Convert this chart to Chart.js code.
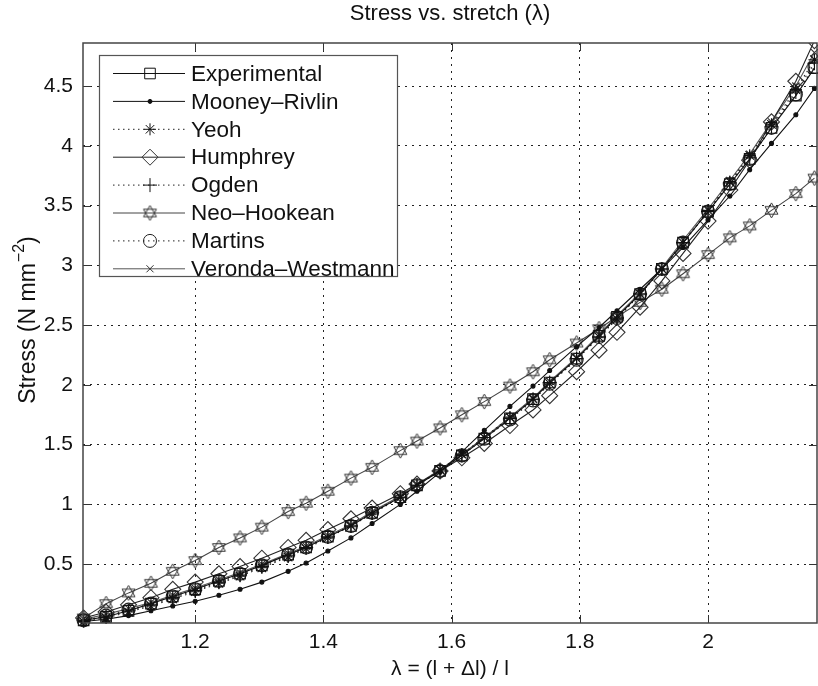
<!DOCTYPE html>
<html>
<head>
<meta charset="utf-8">
<style>
html,body{margin:0;padding:0;background:#fff;}
#wrap{width:818px;height:686px;position:relative;}
</style>
<script src="https://cdn.jsdelivr.net/npm/chart.js@4.4.1/dist/chart.umd.min.js"></script>
</head>
<body>
<div id="wrap"><canvas id="c" width="818" height="686"></canvas></div>
<script>
// ---- data ----
const stretch = [1.026,1.061,1.096,1.131,1.165,1.200,1.237,1.270,1.304,1.345,1.373,1.407,1.443,1.476,1.520,1.546,1.582,1.616,1.651,1.691,1.727,1.753,1.795,1.830,1.858,1.894,1.928,1.961,2.000,2.034,2.065,2.099,2.137,2.166];
const experimental = [0.03,0.06,0.11,0.17,0.23,0.29,0.36,0.42,0.49,0.58,0.64,0.73,0.82,0.93,1.06,1.16,1.28,1.41,1.55,1.72,1.88,2.02,2.22,2.41,2.57,2.76,2.97,3.19,3.45,3.68,3.89,4.15,4.42,4.65];
const mooneyRivlin = [0.02,0.04,0.07,0.11,0.15,0.19,0.24,0.29,0.35,0.44,0.51,0.61,0.72,0.84,1.00,1.11,1.27,1.44,1.62,1.82,1.99,2.12,2.32,2.48,2.62,2.80,2.97,3.15,3.38,3.58,3.80,4.02,4.26,4.48];
const yeoh = [0.02,0.05,0.10,0.15,0.21,0.27,0.34,0.40,0.47,0.56,0.63,0.72,0.82,0.92,1.06,1.16,1.29,1.42,1.56,1.73,1.88,2.01,2.22,2.40,2.55,2.76,2.97,3.19,3.46,3.70,3.92,4.18,4.47,4.72];
const humphrey = [0.05,0.10,0.16,0.22,0.29,0.35,0.42,0.48,0.55,0.64,0.70,0.79,0.88,0.97,1.09,1.17,1.28,1.39,1.51,1.66,1.79,1.91,2.11,2.29,2.44,2.65,2.87,3.10,3.37,3.63,3.88,4.20,4.54,4.88];
const ogden = [0.03,0.06,0.11,0.16,0.22,0.28,0.35,0.41,0.48,0.57,0.64,0.73,0.82,0.93,1.06,1.16,1.28,1.41,1.56,1.72,1.88,2.02,2.22,2.40,2.56,2.76,2.97,3.19,3.45,3.69,3.90,4.16,4.45,4.69];
const neoHookean = [0.05,0.17,0.26,0.34,0.44,0.53,0.64,0.72,0.81,0.94,1.01,1.11,1.22,1.31,1.45,1.53,1.64,1.75,1.86,1.99,2.11,2.21,2.35,2.47,2.57,2.69,2.80,2.93,3.09,3.23,3.33,3.46,3.60,3.73];
const martins = [0.03,0.07,0.12,0.17,0.23,0.29,0.36,0.42,0.49,0.58,0.64,0.73,0.82,0.93,1.06,1.16,1.28,1.41,1.55,1.71,1.87,2.01,2.21,2.40,2.56,2.76,2.97,3.19,3.45,3.68,3.89,4.15,4.43,4.66];
const verondaWestmann = [0.04,0.08,0.13,0.18,0.24,0.30,0.37,0.43,0.50,0.59,0.65,0.74,0.83,0.94,1.07,1.17,1.29,1.42,1.56,1.73,1.89,2.03,2.23,2.42,2.58,2.77,2.98,3.21,3.47,3.71,3.93,4.20,4.50,4.78];
const seriesNames = ['Experimental','Mooney\u2013Rivlin','Yeoh','Humphrey','Ogden','Neo\u2013Hookean','Martins','Veronda\u2013Westmann'];
const xTicks = [1.2,1.4,1.6,1.8,2];
const yTicks = [0.5,1,1.5,2,2.5,3,3.5,4,4.5];
const titleText = 'Stress vs. stretch (\u03bb)';
const xTitle = '\u03bb = (l + \u0394l) / l';
const yTitleMain = 'Stress (N mm';
const yTitleSup = '\u22122';
const yTitleEnd = ')';

// ---- styling ----
const FONT = '"Liberation Sans", Arial, Helvetica, sans-serif';

function hexagram(size, color) {
  const c = document.createElement('canvas');
  c.width = size; c.height = size;
  const g = c.getContext('2d');
  const cx = size / 2, cy = size / 2, r = size / 2 - 1;
  g.strokeStyle = color; g.lineWidth = 1;
  for (let k = 0; k < 2; k++) {
    g.beginPath();
    for (let i = 0; i < 3; i++) {
      const a = -Math.PI / 2 + k * Math.PI + i * 2 * Math.PI / 3;
      const px = cx + r * Math.cos(a), py = cy + r * Math.sin(a);
      if (i === 0) g.moveTo(px, py); else g.lineTo(px, py);
    }
    g.closePath();
    g.stroke();
  }
  return c;
}
const hexImg = hexagram(17, '#333');

const values = [experimental, mooneyRivlin, yeoh, humphrey, ogden, neoHookean, martins, verondaWestmann];
const styles = [
  {line:'#111', dash:[], marker:'rect', r:7.5, mc:'#111', fill:'rgba(0,0,0,0)'},
  {line:'#111', dash:[], marker:'circle', r:2, mc:'#111', fill:'#111'},
  {line:'#222', dash:[1.5,3.5], marker:'star', r:6, mc:'#111', fill:'rgba(0,0,0,0)'},
  {line:'#222', dash:[], marker:'rectRot', r:8, mc:'#333', fill:'rgba(0,0,0,0)'},
  {line:'#222', dash:[1.5,3.5], marker:'cross', r:7, mc:'#111', fill:'rgba(0,0,0,0)'},
  {line:'#444', dash:[], marker:hexImg, r:8, mc:'#333', fill:'rgba(0,0,0,0)'},
  {line:'#222', dash:[1.5,3.5], marker:'circle', r:6.5, mc:'#222', fill:'rgba(0,0,0,0)'},
  {line:'#555', dash:[], marker:'crossRot', r:5, mc:'#333', fill:'rgba(0,0,0,0)'}
];

const datasets = seriesNames.map((name, i) => ({
  label: name,
  data: stretch.map((x, j) => ({x: x, y: values[i][j]})),
  borderColor: styles[i].line,
  borderWidth: 1.1,
  borderDash: styles[i].dash,
  pointStyle: styles[i].marker,
  pointRadius: styles[i].r,
  pointBorderColor: styles[i].mc,
  pointBackgroundColor: styles[i].fill,
  pointBorderWidth: 1.1,
  tension: 0,
  fill: false,
  clip: {left: 10, right: 2, top: 0, bottom: 10}
}));

const PLOT = {left: 83, right: 817, top: 43, bottom: 623};

const framePlugin = {
  id: 'frame',
  afterDatasetsDraw(chart) {
    const ctx = chart.ctx, a = chart.chartArea;
    const xs = chart.scales.x, ys = chart.scales.y;
    ctx.save();
    ctx.setLineDash([]);
    ctx.strokeStyle = '#333';
    ctx.lineWidth = 1;
    const tl = 8;
    ctx.beginPath();
    xTicks.forEach(v => {
      const px = Math.round(xs.getPixelForValue(v)) + 0.5;
      ctx.moveTo(px, a.bottom); ctx.lineTo(px, a.bottom - tl);
      ctx.moveTo(px, a.top); ctx.lineTo(px, a.top + tl);
    });
    yTicks.forEach(v => {
      const py = Math.round(ys.getPixelForValue(v)) + 0.5;
      ctx.moveTo(a.left, py); ctx.lineTo(a.left + tl, py);
      ctx.moveTo(a.right, py); ctx.lineTo(a.right - tl, py);
    });
    ctx.stroke();
    ctx.strokeStyle = '#444';
    ctx.lineWidth = 1.5;
    ctx.strokeRect(a.left, a.top, a.right - a.left, a.bottom - a.top);

    // legend
    const bx = 99, by = 55, bw = 298, bh = 221;
    ctx.fillStyle = '#fff';
    ctx.fillRect(bx, by, bw, bh);
    ctx.strokeStyle = '#555';
    ctx.lineWidth = 1.2;
    ctx.strokeRect(bx + 0.5, by + 0.5, bw, bh);
    const helpers = Chart.helpers || {};
    chart.data.datasets.forEach((ds, i) => {
      const y = 73.5 + i * 27.9;
      ctx.save();
      ctx.strokeStyle = ds.borderColor;
      ctx.lineWidth = 1;
      ctx.setLineDash(ds.borderDash || []);
      ctx.beginPath();
      ctx.moveTo(113, y); ctx.lineTo(185, y);
      ctx.stroke();
      ctx.setLineDash([]);
      ctx.strokeStyle = ds.pointBorderColor;
      ctx.fillStyle = ds.pointBackgroundColor;
      ctx.lineWidth = 1;
      if (helpers.drawPoint) {
        helpers.drawPoint(ctx, {pointStyle: ds.pointStyle, rotation: 0, radius: ds.pointRadius, borderWidth: 1}, 150, y);
      }
      ctx.restore();
      ctx.fillStyle = '#111';
      ctx.font = '22.5px ' + FONT;
      ctx.textBaseline = 'middle';
      ctx.textAlign = 'left';
      ctx.fillText(ds.label, 191, y + 1);
    });
    ctx.restore();
  },
  afterDraw(chart) {
    const ctx = chart.ctx, a = chart.chartArea;
    ctx.save();
    ctx.fillStyle = '#111';
    ctx.font = '22px ' + FONT;
    ctx.textAlign = 'center';
    ctx.textBaseline = 'middle';
    ctx.fillText(titleText, (a.left + a.right) / 2, 14);

    // y-axis title with a real superscript
    const mainFont = '23px ' + FONT, supFont = '16px ' + FONT;
    ctx.font = mainFont; const w1 = ctx.measureText(yTitleMain).width;
    const w3 = ctx.measureText(yTitleEnd).width;
    ctx.font = supFont; const w2 = ctx.measureText(yTitleSup).width;
    const total = w1 + w2 + w3 + 1;
    ctx.translate(27, 320);
    ctx.rotate(-Math.PI / 2);
    ctx.textAlign = 'left';
    ctx.textBaseline = 'alphabetic';
    let x0 = -total / 2;
    ctx.font = mainFont; ctx.fillText(yTitleMain, x0, 8);
    ctx.font = supFont; ctx.fillText(yTitleSup, x0 + w1 + 1, -3);
    ctx.font = mainFont; ctx.fillText(yTitleEnd, x0 + w1 + w2 + 1, 8);
    ctx.restore();
  }
};

new Chart(document.getElementById('c'), {
  type: 'line',
  data: {datasets: datasets},
  options: {
    responsive: false,
    animation: false,
    devicePixelRatio: 1,
    layout: {autoPadding: false, padding: {left: 0, right: 818 - PLOT.right, top: PLOT.top, bottom: 0}},
    plugins: {legend: {display: false}, title: {display: false}, tooltip: {enabled: false}},
    scales: {
      x: {
        type: 'linear',
        min: 1.025, max: 2.170,
        afterBuildTicks: s => { s.ticks = xTicks.map(v => ({value: v})); },
        afterFit: s => { s.height = 686 - PLOT.bottom; },
        grid: {color: '#222', lineWidth: 1, drawTicks: false},
        border: {display: false, dash: [2, 5]},
        ticks: {padding: 7, color: '#111', font: {family: FONT, size: 21}, callback: v => String(v), maxRotation: 0},
        title: {display: true, text: xTitle, color: '#111', font: {family: FONT, size: 21}, padding: {top: 0, bottom: 4}}
      },
      y: {
        type: 'linear',
        min: 0.008, max: 4.86,
        afterBuildTicks: s => { s.ticks = yTicks.map(v => ({value: v})); },
        afterFit: s => { s.width = PLOT.left; },
        grid: {color: '#222', lineWidth: 1, drawTicks: false},
        border: {display: false, dash: [2, 5]},
        ticks: {padding: 10, color: '#111', font: {family: FONT, size: 21}, callback: v => String(v)},
        title: {display: false}
      }
    }
  },
  plugins: [framePlugin]
});
</script>
</body>
</html>
